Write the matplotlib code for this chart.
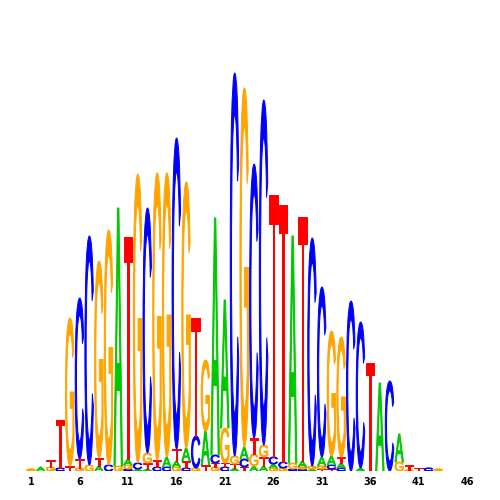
import matplotlib
matplotlib.use("Agg")
import matplotlib.pyplot as plt
from matplotlib.textpath import TextPath
from matplotlib.font_manager import FontProperties
from matplotlib.patches import PathPatch
from matplotlib.transforms import Affine2D

# sequence logo, heights in bits per position (1..46)
positions = list(range(1, 47))
A_bits = [0, .02, 0, 0, 0, 0, 0, .025, 0, 1.29, .03, .01, .01, 0, .05, .03, .065, 0, .17, 1.185,
          .64, .015, .06, .025, .025, .02, 0, 1.135, .03, .01, .045, .045, .025, 0, .015, 0, .44, 0,
          .14, 0, 0, 0, 0, 0, 0, 0]
C_bits = [0, 0, 0, .015, 0, .805, 1.145, 0, .03, 0, .01, .03, 1.225, .02, .02, 1.555, .015, .16, 0, .04,
          .02, 1.915, .04, 1.37, 1.725, .035, .03, .01, .01, 1.14, .85, .02, .015, .85, .73, 0, 0, .45,
          0, 0, 0, .015, 0, 0, 0, 0]
G_bits = [.01, 0, .02, 0, .74, .015, .03, .985, 1.175, .025, .02, 1.445, .05, 1.435, 1.42, .02, 1.33, .015,
          .355, .02, .175, .04, 1.795, .06, .06, .015, .015, .03, .01, .015, .015, .625, .60, 0, 0, 0, 0,
          0, .045, .005, 0, 0, .01, 0, 0, 0]
T_bits = [0, 0, .035, .24, .025, .045, 0, .04, 0, 0, 1.11, 0, .03, .035, 0, .06, .035, .59, .03, .02,
          .02, .02, .02, .08, .045, 1.31, 1.285, 0, 1.22, 0, .01, .01, .03, 0, 0, .54, 0, 0, 0, .025,
          .015, 0, 0, 0, 0, 0]
tick_pos = [1, 6, 11, 16, 21, 26, 31, 36, 41, 46]

colors = {'A': '#00C800', 'C': '#0000FF', 'G': '#FFA500', 'T': '#FF0000'}
fp = FontProperties(family='Liberation Sans', weight='normal')

def draw_letter(ax, letter, x, y, w, h):
    path = TextPath((0, 0), letter, size=1, prop=fp)
    bb = path.get_extents()
    tr = Affine2D().translate(-bb.x0, -bb.y0).scale(w / bb.width, h / bb.height).translate(x - w / 2, y)
    # thin edge in the same colour thickens the stems a bit
    ax.add_patch(PathPatch(tr.transform_path(path), facecolor=colors[letter],
                           edgecolor=colors[letter], lw=0.7, joinstyle='round'))

fig = plt.figure(figsize=(5, 5), dpi=100)
ax = fig.add_axes([0, 29 / 500, 1, 471 / 500])

for i, p in enumerate(positions):
    col = [('A', A_bits[i]), ('C', C_bits[i]), ('G', G_bits[i]), ('T', T_bits[i])]
    col = sorted([c for c in col if c[1] > 0], key=lambda c: c[1])
    y = 0
    for letter, h in col:
        draw_letter(ax, letter, p, y, 0.88, h)
        y += h

ax.set_xlim(1 - 31 / 9.69, 1 + 469 / 9.69)
ax.set_ylim(0, 2.355)
ax.set_xticks(tick_pos)
ax.set_xticklabels([str(t) for t in tick_pos], fontsize=7, fontweight='bold')
ax.tick_params(axis='x', length=0, pad=4)
ax.set_yticks([])
for s in ax.spines.values():
    s.set_visible(False)

fig.savefig('out.png', dpi=100)
